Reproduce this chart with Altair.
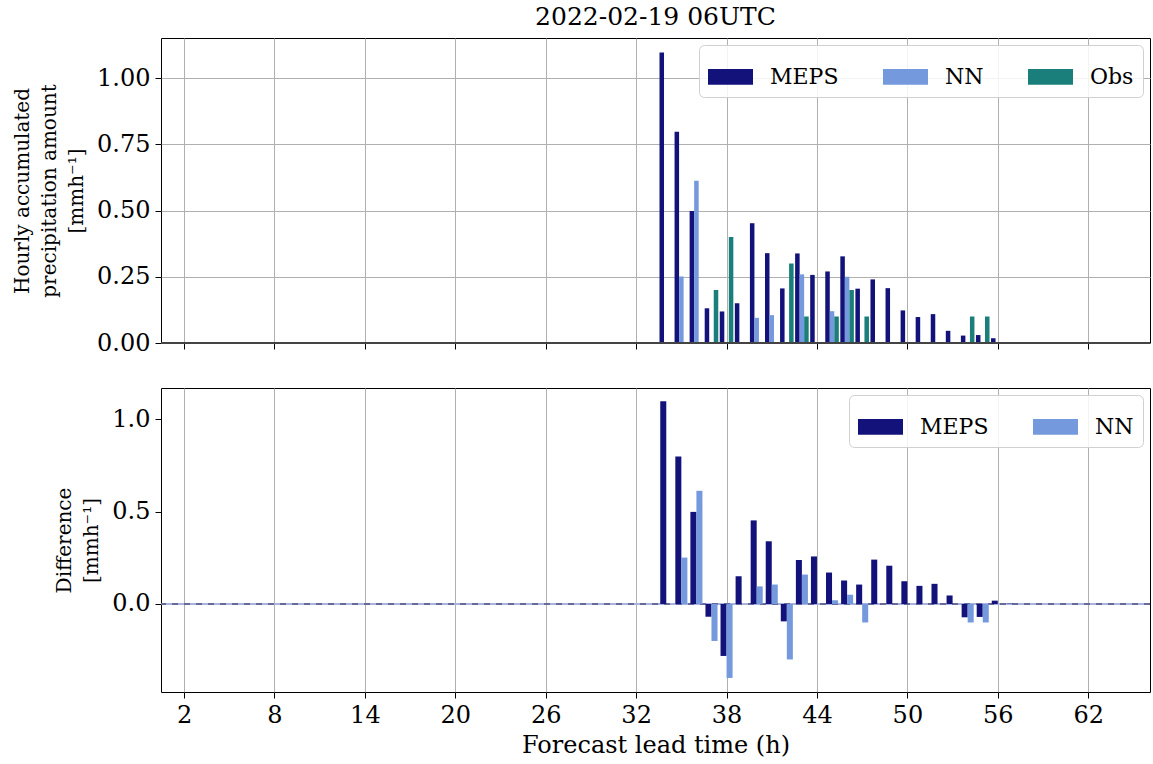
import altair as alt
import pandas as pd

# Lead times (hours)
lead = list(range(1, 67))
# Values for lead times 34..57 (zero elsewhere)
first_lead = 34
meps_vals = [1.096, 0.797, 0.498, 0.131, 0.119, 0.150, 0.452, 0.339, 0.206, 0.338,
             0.257, 0.270, 0.327, 0.205, 0.240, 0.207, 0.123, 0.098, 0.109, 0.046,
             0.028, 0.030, 0.018, 0.002]
nn_vals = [0.0, 0.251, 0.612, 0.0, 0.0, 0.0, 0.095, 0.105, 0.0, 0.259,
           0.0, 0.120, 0.250, 0.0, 0.0, 0.0, 0.0, 0.0, 0.0, 0.0,
           0.0, 0.0, 0.0, 0.0]
obs_vals = [0.0, 0.0, 0.0, 0.2, 0.4, 0.0, 0.0, 0.0, 0.3, 0.1,
            0.0, 0.1, 0.2, 0.1, 0.0, 0.0, 0.0, 0.0, 0.0, 0.0,
            0.1, 0.1, 0.0, 0.0]

x_ticks = [2, 8, 14, 20, 26, 32, 38, 44, 50, 56, 62]
top_ticks = [0.0, 0.25, 0.5, 0.75, 1.0]
bot_ticks = [0.0, 0.5, 1.0]

sources = ["MEPS", "NN", "Obs"]
colors = ["#12127a", "#7499dc", "#1a7f7a"]


def full(vals):
    out = []
    for h in lead:
        i = h - first_lead
        out.append(vals[i] if 0 <= i < len(vals) else 0.0)
    return out


series = {"MEPS": full(meps_vals), "NN": full(nn_vals), "Obs": full(obs_vals)}

# top panel: three bars per lead time
top_w = 0.3
top_off = {"MEPS": -0.3, "NN": 0.0, "Obs": 0.3}
rows = []
for s in sources:
    for h, v in zip(lead, series[s]):
        c = h + top_off[s]
        rows.append({"lead": h, "source": s, "value": v,
                     "x0": c - top_w / 2, "x1": c + top_w / 2})
top_df = pd.DataFrame(rows)

# bottom panel: differences
bot_w = 0.4
bot_off = {"MEPS": -0.2, "NN": 0.2}
rows = []
for s in ["MEPS", "NN"]:
    for h, v, o in zip(lead, series[s], series["Obs"]):
        c = h + bot_off[s]
        rows.append({"lead": h, "source": s, "value": v - o,
                     "x0": c - bot_w / 2, "x1": c + bot_w / 2})
bot_df = pd.DataFrame(rows)

FONT = "DejaVu Serif"
xdom = [0.47, 66.1]
W = 989

legend_common = dict(
    orient="top-right", direction="horizontal", title=None,
    symbolType="M-1,-0.35L1,-0.35L1,0.35L-1,0.35Z", symbolSize=2025,
    symbolStrokeWidth=0, symbolOpacity=1,
    labelFont=FONT, labelFontSize=22, labelColor="black", labelOffset=17,
    columnPadding=44, fillColor="rgba(255,255,255,0.85)", strokeColor="#d0d0d0",
    cornerRadius=5, padding=9, offset=7,
)

top_bars = alt.Chart(top_df).mark_bar(clip=True).encode(
    x=alt.X("x0:Q", scale=alt.Scale(domain=xdom, nice=False, zero=False),
            axis=alt.Axis(values=x_ticks, labels=False, title=None)),
    x2="x1:Q",
    y=alt.Y("value:Q", scale=alt.Scale(domain=[0, 1.151], nice=False),
            axis=alt.Axis(values=top_ticks, format=".2f",
                          title=["Hourly accumulated", "precipitation amount", "[mmh⁻¹]"])),
    y2=alt.datum(0),
    color=alt.Color("source:N", scale=alt.Scale(domain=sources, range=colors),
                    legend=alt.Legend(columns=3, **legend_common)),
)
top_base = alt.Chart(top_df).mark_rule(color="#444444", strokeWidth=1.5).encode(
    y=alt.datum(0))

top = alt.layer(top_bars, top_base).properties(
    width=W, height=305,
    title=alt.TitleParams("2022-02-19 06UTC", font=FONT, fontSize=25,
                          fontWeight="normal", color="black", anchor="middle",
                          offset=8))

bars_bot = alt.Chart(bot_df).mark_bar(clip=True).encode(
    x=alt.X("x0:Q", scale=alt.Scale(domain=xdom, nice=False, zero=False),
            axis=alt.Axis(values=x_ticks, format="d", title="Forecast lead time (h)")),
    x2="x1:Q",
    y=alt.Y("value:Q", scale=alt.Scale(domain=[-0.476, 1.168], nice=False, zero=False),
            axis=alt.Axis(values=bot_ticks, format=".1f",
                          title=["Difference", "[mmh⁻¹]"])),
    y2=alt.datum(0),
    color=alt.Color("source:N", scale=alt.Scale(domain=["MEPS", "NN"], range=colors[:2]),
                    legend=alt.Legend(columns=2, **legend_common)),
)

zero_light = alt.Chart(bot_df).mark_rule(color="#a9b5dc", strokeWidth=1.5).encode(
    y=alt.datum(0))
zero_dark = alt.Chart(bot_df).mark_rule(color="#6b6b99", strokeWidth=1.5,
                                         strokeDash=[6, 6]).encode(y=alt.datum(0))

bottom = alt.layer(zero_light, zero_dark, bars_bot).properties(width=W, height=304)

chart = alt.vconcat(top, bottom, spacing=31).resolve_scale(
    color="independent").resolve_legend(color="independent").properties(
    padding={"left": 12, "top": 4, "right": 0, "bottom": 2}
).configure_view(stroke="black", strokeWidth=1).configure_axis(
    labelFont=FONT, labelFontSize=24, labelColor="black",
    titleFont=FONT, titleFontSize=20, titleFontWeight="normal", titleColor="black",
    titleLineHeight=27, titlePadding=10,
    gridColor="#b0b0b0", gridWidth=1, domain=False,
    tickColor="black", tickSize=6, tickWidth=1, labelPadding=5,
).configure_axisX(titleFontSize=24, titlePadding=6)

chart.save("out.html", embed_options={"renderer": "svg", "actions": False})
